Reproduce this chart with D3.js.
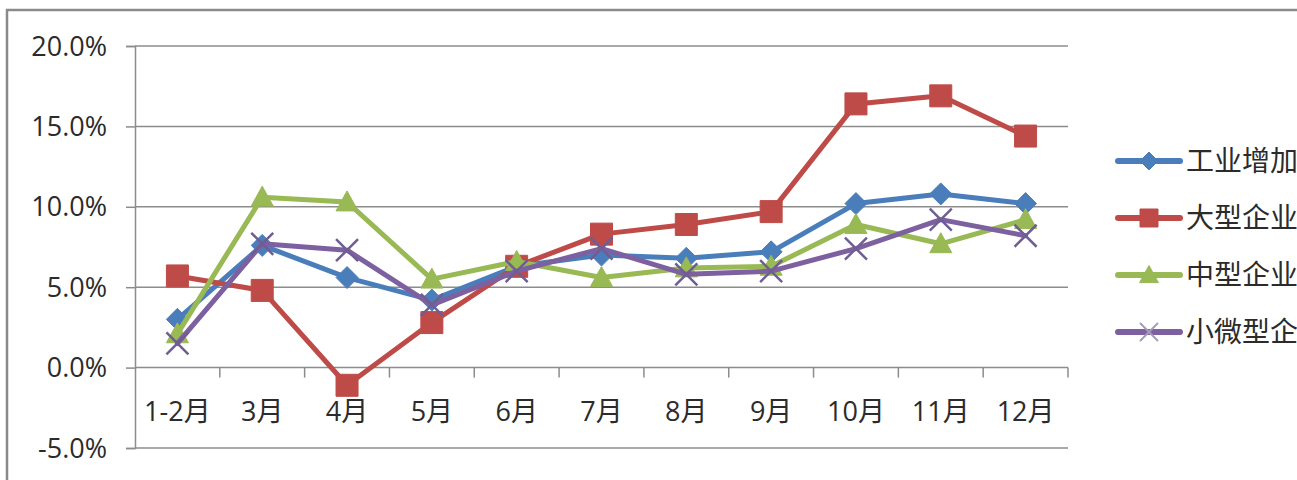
<!DOCTYPE html>
<html>
<head>
<meta charset="utf-8">
<script src="https://cdn.jsdelivr.net/npm/d3@7"></script>
<style>
    body { margin: 0; background: #fff; overflow: hidden; }
    text { font-family: "Open Sans", "Noto Sans CJK SC", sans-serif; fill: #2b2b2b; }
</style>
</head>
<body>
<div id="chart"></div>
<script>
// datos
var categories = ["1-2月", "3月", "4月", "5月", "6月", "7月", "8月", "9月", "10月", "11月", "12月"];
var seriesNames = ["工业增加值", "大型企业", "中型企业", "小微型企业"];
var totalValues = [3.0, 7.6, 5.6, 4.2, 6.3, 7.0, 6.8, 7.2, 10.2, 10.8, 10.2];
var largeValues = [5.7, 4.8, -1.1, 2.8, 6.3, 8.3, 8.9, 9.7, 16.4, 16.9, 14.4];
var mediumValues = [2.1, 10.6, 10.3, 5.5, 6.6, 5.6, 6.2, 6.3, 8.9, 7.7, 9.2];
var smallValues = [1.5, 7.7, 7.3, 3.9, 6.0, 7.4, 5.8, 6.0, 7.4, 9.2, 8.2];
var yTicks = [-5, 0, 5, 10, 15, 20];

var colors = ["#4A7EBB", "#BE4B48", "#98B954", "#7D60A0"];
var markers = ["diamond", "square", "triangle", "cross"];
var allValues = [totalValues, largeValues, mediumValues, smallValues];

var width = 1297,
    height = 480;

var svg = d3.select("#chart")
    .append("svg")
    .attr("width", width)
    .attr("height", height);

// borde del area del grafico
svg.append("rect")
    .attr("x", 7)
    .attr("y", 10)
    .attr("width", width + 20)
    .attr("height", height + 20)
    .style("fill", "#fff")
    .style("stroke", "#8a8a8a")
    .style("stroke-width", "2.5px");

var x = d3.scaleBand()
    .domain(categories)
    .range([135, 1068])
    .padding(0);

var y = d3.scaleLinear()
    .domain([-5, 20])
    .range([448, 46]);

// lineas de cuadricula
svg.append("g")
    .selectAll("line")
    .data(yTicks.filter(function (d) { return d != 0; }))
    .enter()
    .append("line")
    .attr("x1", 135)
    .attr("x2", 1068)
    .attr("y1", function (d) { return y(d); })
    .attr("y2", function (d) { return y(d); })
    .style("stroke", "#8c8c8c")
    .style("stroke-width", "1.5px");

// eje y
var yAxis = svg.append("g")
    .attr("transform", "translate(135,0)")
    .call(d3.axisLeft(y)
        .tickValues(yTicks)
        .tickSize(9)
        .tickPadding(19)
        .tickFormat(function (d) { return d3.format(".1f")(d).replace("\u2212", "-") + "%"; }));

yAxis.select(".domain").style("stroke", "#8c8c8c").style("stroke-width", "1.5px");
yAxis.selectAll(".tick line").style("stroke", "#8c8c8c").style("stroke-width", "1.5px");
yAxis.selectAll(".tick text")
    .style("font-size", "27px")
    .style("fill", "#2b2b2b")
    .attr("dy", "0.34em");

// eje x en cero
var xAxis = svg.append("g")
    .attr("transform", "translate(0," + y(0) + ")");

xAxis.append("line")
    .attr("x1", 135)
    .attr("x2", 1068)
    .style("stroke", "#8c8c8c")
    .style("stroke-width", "1.5px");

xAxis.selectAll(".xtick")
    .data(categories)
    .enter()
    .append("line")
    .attr("class", "xtick")
    .attr("x1", function (d) { return x(d) + x.bandwidth(); })
    .attr("x2", function (d) { return x(d) + x.bandwidth(); })
    .attr("y1", 0)
    .attr("y2", 10)
    .style("stroke", "#8c8c8c")
    .style("stroke-width", "1.5px");

xAxis.selectAll(".xlabel")
    .data(categories)
    .enter()
    .append("text")
    .attr("class", "xlabel")
    .attr("x", function (d) { return x(d) + x.bandwidth() / 2; })
    .attr("y", 53)
    .attr("text-anchor", "middle")
    .style("font-size", "27px")
    .text(function (d) { return d; });

function markerPath(type, s) {
    if (type == "diamond") return "M0," + (-s) + "L" + s + ",0L0," + s + "L" + (-s) + ",0Z";
    if (type == "square") return "M" + (-s) + "," + (-s) + "H" + s + "V" + s + "H" + (-s) + "Z";
    if (type == "triangle") return "M0," + (-s * 1.05) + "L" + (s * 1.05) + "," + (s * 0.85) + "L" + (-s * 1.05) + "," + (s * 0.85) + "Z";
    return "M" + (-s) + "," + (-s) + "L" + s + "," + s + "M" + s + "," + (-s) + "L" + (-s) + "," + s;
}

var markerSize = [11, 11, 10.5, 11];

var line = d3.line()
    .x(function (d, i) { return x(categories[i]) + x.bandwidth() / 2; })
    .y(function (d) { return y(d); });

allValues.forEach(function (values, k) {
    var g = svg.append("g").attr("class", "serie");

    g.append("path")
        .datum(values)
        .attr("d", line)
        .style("fill", "none")
        .style("stroke", colors[k])
        .style("stroke-width", "5px")
        .style("stroke-linejoin", "round")
        .style("stroke-linecap", "round");

    g.selectAll(".mark")
        .data(values)
        .enter()
        .append("path")
        .attr("class", "mark")
        .attr("transform", function (d, i) {
            return "translate(" + (x(categories[i]) + x.bandwidth() / 2) + "," + y(d) + ")";
        })
        .attr("d", markerPath(markers[k], markerSize[k]))
        .style("fill", markers[k] == "cross" ? "none" : colors[k])
        .style("stroke", markers[k] == "cross" ? "#6f5d94" : colors[k])
        .style("stroke-width", markers[k] == "cross" ? "2.5px" : "1px");
});

// leyenda (cortada por el borde derecho como en la imagen)
var legend = svg.append("g");

seriesNames.forEach(function (name, k) {
    var ly = 161 + k * 57;

    legend.append("line")
        .attr("x1", 1118)
        .attr("x2", 1180)
        .attr("y1", ly)
        .attr("y2", ly)
        .style("stroke", colors[k])
        .style("stroke-width", "6px")
        .style("stroke-linecap", "round");

    legend.append("path")
        .attr("transform", "translate(1149," + ly + ")")
        .attr("d", markerPath(markers[k], 9))
        .style("fill", markers[k] == "cross" ? "none" : colors[k])
        .style("stroke", markers[k] == "cross" ? "#a79bb8" : colors[k])
        .style("stroke-width", markers[k] == "cross" ? "2px" : "1px");

    legend.append("text")
        .attr("x", 1186)
        .attr("y", ly)
        .attr("dy", "0.36em")
        .style("font-size", "28px")
        .text(name);
});
</script>
</body>
</html>
